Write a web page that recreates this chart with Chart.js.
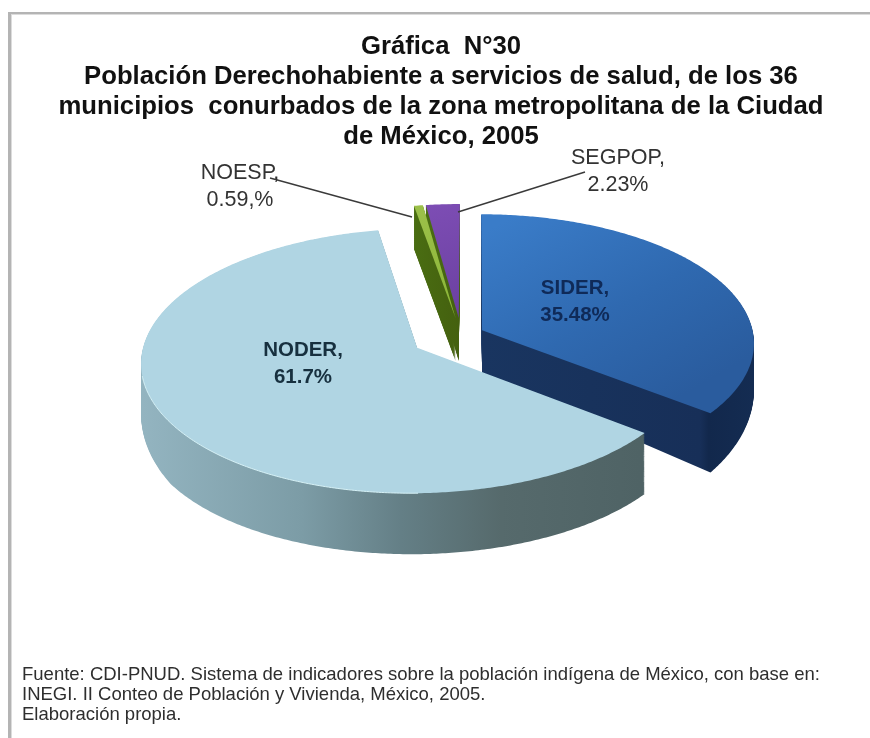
<!DOCTYPE html>
<html><head><meta charset="utf-8">
<style>html,body{margin:0;padding:0;background:#fff}canvas{display:block;filter:blur(0.55px)}</style>
<script src="https://cdn.jsdelivr.net/npm/chart.js@4/dist/chart.umd.min.js"></script>
</head><body><canvas id="c" width="870" height="738"></canvas>
<script>
const categories = ["SIDER", "NODER", "NOESP", "SEGPOP"];
const values = [35.48, 61.7, 0.59, 2.23];
const valueLabels = ["35.48%", "61.7%", "0.59,%", "2.23%"];
const titleLines = ["Gráfica  N°30",
  "Población Derechohabiente a servicios de salud, de los 36",
  "municipios  conurbados de la zona metropolitana de la Ciudad",
  "de México, 2005"];
const sourceLines = ["Fuente: CDI-PNUD. Sistema de indicadores sobre la población indígena de México, con base en:",
  "INEGI. II Conteo de Población y Vivienda, México, 2005.",
  "Elaboración propia."];
const explode = [68.8, 149.6, 108.8, 108.8];
const sliceColors = ["#2f6cb4", "#b0d5e3", "#8fbc3c", "#7a4bb0"];

// view of the tilted pie
const view = {X: 472, Y: 340.5, rx: 272.6, ry: 129.5, p: 0.1, cu: -0.04, cv: -0.042};
function project(arc, x, y) {
  const U = (x - arc.x) / arc.outerRadius + view.cu, V = (y - arc.y) / arc.outerRadius + view.cv;
  const w = 1 - view.p * V;
  return {sx: view.X + view.rx * U / w, sy: view.Y + view.ry * V / w, V};
}
function wallDepth(V) {
  return 43 + 18 * Math.max(0, Math.min(1, (V + 0.1) / 0.7));
}
function outline(arc) {
  const off = (arc.options.offset || 0) / 4, mid = (arc.startAngle + arc.endAngle) / 2;
  const ax = arc.x + Math.cos(mid) * off, ay = arc.y + Math.sin(mid) * off;
  const pts = [project(arc, ax, ay)];
  const n = Math.max(2, Math.ceil((arc.endAngle - arc.startAngle) / 0.01));
  for (let i = 0; i <= n; i++) {
    const a = arc.startAngle + (arc.endAngle - arc.startAngle) * i / n;
    pts.push(project(arc, ax + Math.cos(a) * arc.outerRadius, ay + Math.sin(a) * arc.outerRadius));
  }
  return pts;
}
function trace(ctx, pts, t) {
  ctx.beginPath();
  pts.forEach((p, i) => {
    const y = p.sy + t * wallDepth(p.V);
    i ? ctx.lineTo(p.sx, y) : ctx.moveTo(p.sx, y);
  });
  ctx.closePath();
}
function grad(ctx, x0, y0, x1, y1, stops) {
  const g = ctx.createLinearGradient(x0, y0, x1, y1);
  stops.forEach(s => g.addColorStop(s[0], s[1]));
  return g;
}
const drawOrder = [3, 2, 0, 1];
const pie3d = {
  id: 'pie3d',
  beforeDraw(chart) {
    const c = chart.ctx;
    c.save();
    c.fillStyle = '#fff'; c.fillRect(0, 0, 870, 738);
    c.fillStyle = '#b4b4b4'; c.fillRect(8, 12, 862, 2); c.fillRect(8, 12, 3, 726);
    c.fillStyle = '#dcdcdc'; c.fillRect(11, 14, 859, 1); c.fillRect(11, 14, 1, 724);
    c.restore();
  },
  beforeDatasetsDraw(chart) {
    const c = chart.ctx, arcs = chart.getDatasetMeta(0).data;
    const walls = [
      grad(c, 482, 0, 755, 0, [[0, '#193560'], [0.8, '#172f58'], [0.83, '#12284c'], [1, '#142c52']]),
      grad(c, 143, 0, 640, 0, [[0, '#93b4c0'], [0.32, '#7c9ca6'], [0.52, '#647f86'], [0.72, '#566a6c'], [1, '#4f6365']]),
      grad(c, 410, 0, 460, 0, [[0, '#4a6e12'], [1, '#44600f']]),
      grad(c, 425, 0, 460, 0, [[0, '#4a6e12'], [1, '#44600f']])
    ];
    const faces = [
      grad(c, 520, 212, 640, 420, [[0, '#3a7cc8'], [0.55, '#2f69b0'], [1, '#2a5c9e']]),
      sliceColors[1],
      grad(c, 412, 206, 458, 320, [[0, '#9cc04a'], [1, '#8ab536']]),
      grad(c, 425, 206, 458, 320, [[0, '#7d4db4'], [1, '#6a40a0']])
    ];
    c.save();
    drawOrder.forEach(i => {
      const pts = outline(arcs[i]);
      c.fillStyle = walls[i];
      for (let t = 1; t > 0; t -= 1 / 64) { trace(c, pts, t); c.fill(); }
      trace(c, pts, 0); c.fillStyle = faces[i]; c.fill();
      if (i === 1) {
        c.strokeStyle = '#d6f1f6'; c.lineWidth = 1; c.beginPath();
        pts.slice(1).forEach(p => { if (p.sx < 420 && p.sy > 375) c.lineTo(p.sx, p.sy); });
        c.stroke();
      }
    });
    // leader lines
    c.strokeStyle = '#3a3a3a'; c.lineWidth = 1.4;
    c.beginPath(); c.moveTo(270, 178); c.lineTo(412, 217); c.stroke();
    c.beginPath(); c.moveTo(458, 212); c.lineTo(585, 172); c.stroke();
    // data labels
    const lab = [[575, 288, '#0f2a58', 'bold 20.5px'], [303, 350, '#17303f', 'bold 20.5px'], [240, 173, '#333', 'normal 21.5px'], [618, 158, '#333', 'normal 21.5px']];
    c.textAlign = 'center'; c.textBaseline = 'middle';
    lab.forEach((l, i) => {
      c.fillStyle = l[2];
      c.font = l[3] + ' "Liberation Sans", Arial, sans-serif';
      c.fillText(categories[i] + ',', l[0], l[1]);
      c.fillText(valueLabels[i], l[0], l[1] + 27);
    });
    c.restore();
    return false;
  }
};
new Chart(document.getElementById('c'), {
  type: 'pie',
  data: {labels: categories, datasets: [{data: values, backgroundColor: sliceColors, offset: explode, borderWidth: 0, hoverOffset: 0}]},
  options: {
    responsive: false, animation: false, events: [], radius: 200, rotation: 0,
    layout: {padding: {left: 22, right: 10}},
    plugins: {
      legend: {display: false}, tooltip: {enabled: false},
      title: {display: true, text: titleLines, color: '#111', align: 'center',
        font: {family: '"Liberation Sans", Arial, sans-serif', size: 25.7, weight: 'bold', lineHeight: 1.167},
        padding: {top: 32, bottom: 0}},
      subtitle: {display: true, position: 'bottom', align: 'start', text: sourceLines, color: '#2e2e2e',
        font: {family: '"Liberation Sans", Arial, sans-serif', size: 18.5, weight: 'normal', lineHeight: 1.08},
        padding: {top: 0, bottom: 13}}
    }
  },
  plugins: [pie3d]
});
</script></body></html>
